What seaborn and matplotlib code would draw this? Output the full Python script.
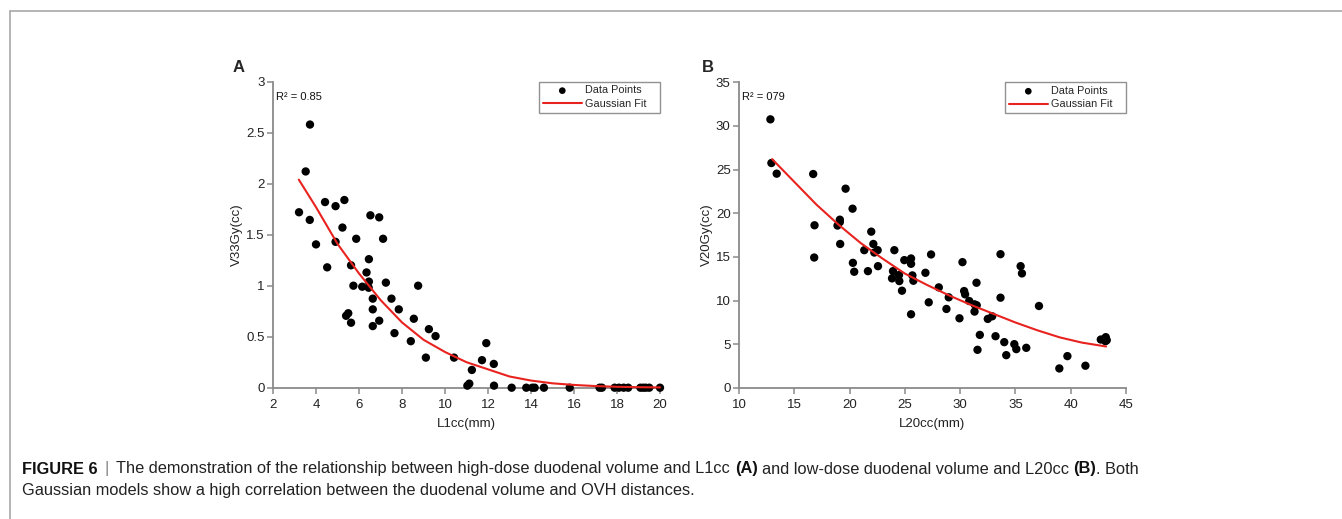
import matplotlib
matplotlib.use("Agg")
import matplotlib.pyplot as plt
import seaborn as sns
import pandas as pd
from matplotlib.lines import Line2D

# Panel A: L1cc vs V33Gy
l1cc = [3.21, 3.71, 3.72, 3.52, 4.0, 4.42, 4.52, 4.91, 4.91, 5.32,
        5.23, 5.87, 5.63, 5.74, 5.4, 5.5, 5.63, 6.35, 6.46, 6.46,
        6.45, 6.15, 6.53, 6.94, 7.12, 6.64, 6.64, 6.64, 6.94, 7.25,
        7.51, 7.65, 7.85, 8.41, 8.55, 8.75, 9.11, 9.25, 9.56, 10.42,
        11.04, 11.13, 11.25, 11.72, 11.92, 12.27, 12.28,
        13.1, 13.78, 14.06, 14.17, 14.6, 15.8, 17.19, 17.3, 17.89, 18.09,
        18.31, 18.52, 19.09, 19.22, 19.34, 19.5, 20.0]
v33 = [1.72, 1.645, 2.58, 2.12, 1.405, 1.82, 1.18, 1.78, 1.43, 1.84,
       1.57, 1.46, 1.20, 1.0, 0.705, 0.73, 0.637, 1.13, 1.26, 1.04,
       0.98, 0.99, 1.69, 1.67, 1.46, 0.873, 0.768, 0.604, 0.657, 1.03,
       0.873, 0.535, 0.768, 0.456, 0.676, 1.0, 0.295, 0.574, 0.506, 0.295,
       0.02, 0.04, 0.174, 0.27, 0.437, 0.233, 0.02,
       0.0, 0.0, 0.0, 0.0, 0.0, 0.0, 0.0, 0.0, 0.0, 0.0,
       0.0, 0.0, 0.0, 0.0, 0.0, 0.0, 0.0]
fit_a_x = [3.2, 4, 5, 6, 7, 8, 9, 10, 11, 12, 13, 14, 15, 16, 17, 18, 19, 20]
fit_a_y = [2.04, 1.77, 1.41, 1.12, 0.86, 0.64, 0.47, 0.35, 0.25, 0.18,
           0.11, 0.07, 0.043, 0.027, 0.016, 0.009, 0.005, 0.003]

# Panel B: L20cc vs V20Gy
l20cc = [12.84, 12.93, 13.41, 16.71, 16.83, 16.8, 19.64, 20.27, 19.12, 19.12,
         18.91, 19.15, 21.96, 22.15, 20.3, 20.42, 21.33, 21.66, 22.24, 22.54,
         22.57, 24.05, 23.84, 23.93, 24.47, 24.5, 24.95, 24.74, 25.56, 25.56,
         25.68, 25.77, 25.56, 26.86, 27.37, 27.16, 28.07, 28.76, 28.97, 29.94,
         30.21, 30.36, 30.45, 30.82, 31.3, 31.5, 31.48, 31.3, 31.78, 31.57,
         32.5, 32.9, 33.2, 33.65, 33.65, 33.99, 34.17, 34.9, 35.08, 35.47,
         35.59, 35.98, 37.13, 38.97, 39.7, 41.33, 42.72, 43.02, 43.17, 43.26,
         43.14]
v20 = [30.76, 25.76, 24.54, 24.5, 18.63, 14.94, 22.82, 20.53, 19.27, 19.0,
       18.6, 16.49, 17.9, 16.49, 14.33, 13.31, 15.78, 13.38, 15.51, 15.78,
       13.95, 15.78, 12.55, 13.38, 12.93, 12.24, 14.64, 11.14, 14.83, 14.22,
       12.89, 12.28, 8.44, 13.19, 15.29, 9.81, 11.52, 9.05, 10.38, 7.98,
       14.41, 11.1, 10.72, 9.96, 9.58, 9.47, 12.05, 8.75, 6.08, 4.37,
       7.91, 8.21, 5.93, 15.32, 10.34, 5.25, 3.76, 5.02, 4.45, 13.95,
       13.12, 4.6, 9.39, 2.24, 3.65, 2.55, 5.55, 5.59, 5.82, 5.48,
       5.36]
fit_b_x = [13, 15, 17, 19, 21, 23, 25, 27, 29, 31, 33, 35, 37, 39, 41, 43.2]
fit_b_y = [26.2, 23.6, 21.0, 18.7, 16.6, 14.8, 13.1, 11.8, 10.6, 9.5,
           8.5, 7.5, 6.6, 5.8, 5.2, 4.75]

sns.set_style("ticks")
plt.rcParams['font.family'] = ['Liberation Sans', 'DejaVu Sans']

fig = plt.figure(figsize=(13.42, 5.19), dpi=100)
W, H = 1342, 519

def fx(px):
    return px / W

def fy(py):
    return 1 - py / H

panels = [
    dict(pos=(273, 660, 81.7, 387.7), x=l1cc, y=v33, fx=fit_a_x, fy=fit_a_y,
         xlim=(2, 20), ylim=(0, 3), xticks=range(2, 21, 2),
         yticks=[0, 0.5, 1, 1.5, 2, 2.5, 3], ylabels=['0', '0.5', '1', '1.5', '2', '2.5', '3'],
         xlabel='L1cc(mm)', ylabel='V33Gy(cc)', r2='R² = 0.85', letter='A',
         letter_px=233, ylab_off=36),
    dict(pos=(739, 1126, 82.3, 388), x=l20cc, y=v20, fx=fit_b_x, fy=fit_b_y,
         xlim=(10, 45), ylim=(0, 35), xticks=range(10, 46, 5),
         yticks=range(0, 36, 5), ylabels=[str(v) for v in range(0, 36, 5)],
         xlabel='L20cc(mm)', ylabel='V20Gy(cc)', r2='R² = 079', letter='B',
         letter_px=702, ylab_off=32),
]

spine_col = '#8a8a8a'
for p in panels:
    l, r, t, b = p['pos']
    w, h = r - l, b - t
    ax = fig.add_axes([fx(l), fy(b), w / W, h / H])
    df = pd.DataFrame({'x': p['x'], 'y': p['y']})
    sns.scatterplot(data=df, x='x', y='y', ax=ax, color='black', s=36,
                    edgecolor='none', clip_on=False, zorder=3, label='Data Points')
    fit = pd.DataFrame({'x': p['fx'], 'y': p['fy']})
    sns.lineplot(data=fit, x='x', y='y', ax=ax, color='#e8231f', linewidth=1.5,
                 clip_on=False, zorder=4, label='Gaussian Fit')
    ax.set_xlim(*p['xlim'])
    ax.set_ylim(*p['ylim'])
    ax.set_xticks(list(p['xticks']))
    ax.set_yticks(list(p['yticks']))
    ax.set_yticklabels(p['ylabels'])
    sns.despine(ax=ax)
    for s in ['left', 'bottom']:
        ax.spines[s].set_color(spine_col)
        ax.spines[s].set_linewidth(1.3)
    ax.tick_params(axis='both', colors=spine_col, labelcolor='#222222',
                   labelsize=9.5, length=4, width=1.1)
    ax.tick_params(axis='x', pad=4)
    ax.tick_params(axis='y', pad=2)
    ax.set_xlabel(p['xlabel'], fontsize=9.5, color='#222222', va='center')
    ax.set_ylabel(p['ylabel'], fontsize=9.5, color='#222222', va='center')
    ax.xaxis.set_label_coords(0.5, -(424 - b) / h)
    ax.yaxis.set_label_coords(-p['ylab_off'] / w, 0.5)
    ax.text(3 / w, (b - 97) / h, p['r2'], transform=ax.transAxes,
            fontsize=8, ha='left', va='center', color='#111111')
    leg = ax.legend(loc='upper right', bbox_to_anchor=(1 - 121 / w, 0, 121 / w, 1.0),
                    mode='expand', borderaxespad=0, fancybox=False, frameon=True,
                    fontsize=7.8, handlelength=3.6, handletextpad=0.3,
                    labelspacing=0.3, borderpad=0.35, markerscale=0.8)
    leg.get_frame().set_edgecolor('#777777')
    leg.get_frame().set_linewidth(1.0)
    fig.text(fx(p['letter_px']), fy(67), p['letter'], fontsize=12,
             fontweight='bold', ha='left', va='center')

# gray frame lines
fig.add_artist(Line2D([fx(9.5), 1], [fy(10.5), fy(10.5)], color='#a8a8a8', lw=1.2))
fig.add_artist(Line2D([fx(9.5), fx(9.5)], [fy(10.5), 0], color='#a8a8a8', lw=1.2))

# caption
cap_family = ['Liberation Sans', 'DejaVu Sans']
cap_size = 11.8
renderer = fig.canvas.get_renderer()

def tw(s, weight='normal'):
    t = fig.text(0, 0, s, fontsize=cap_size, family=cap_family, fontweight=weight)
    wd = t.get_window_extent(renderer).width
    t.remove()
    return wd

space = tw('x x') - tw('xx')
pieces = [("FIGURE 6", 'bold', '#111111'), ("|", 'normal', '#888888'),
          ("The demonstration of the relationship between high-dose duodenal volume and L1cc", 'normal', '#222222'),
          ("(A)", 'bold', '#111111'),
          ("and low-dose duodenal volume and L20cc", 'normal', '#222222'),
          ("(B)", 'bold', '#111111'), (". Both", 'normal', '#222222')]
xpos = 22
for i, (s, wgt, col) in enumerate(pieces):
    fig.text(fx(xpos), fy(469), s, fontsize=cap_size, family=cap_family,
             fontweight=wgt, color=col, ha='left', va='center')
    xpos += tw(s, wgt)
    if i < len(pieces) - 2:
        xpos += space * (1.6 if i < 2 else 1)
fig.text(fx(22), fy(491), "Gaussian models show a high correlation between the duodenal volume and OVH distances.",
         fontsize=cap_size, family=cap_family, color='#222222', ha='left', va='center')

fig.savefig("out.png", dpi=100)
